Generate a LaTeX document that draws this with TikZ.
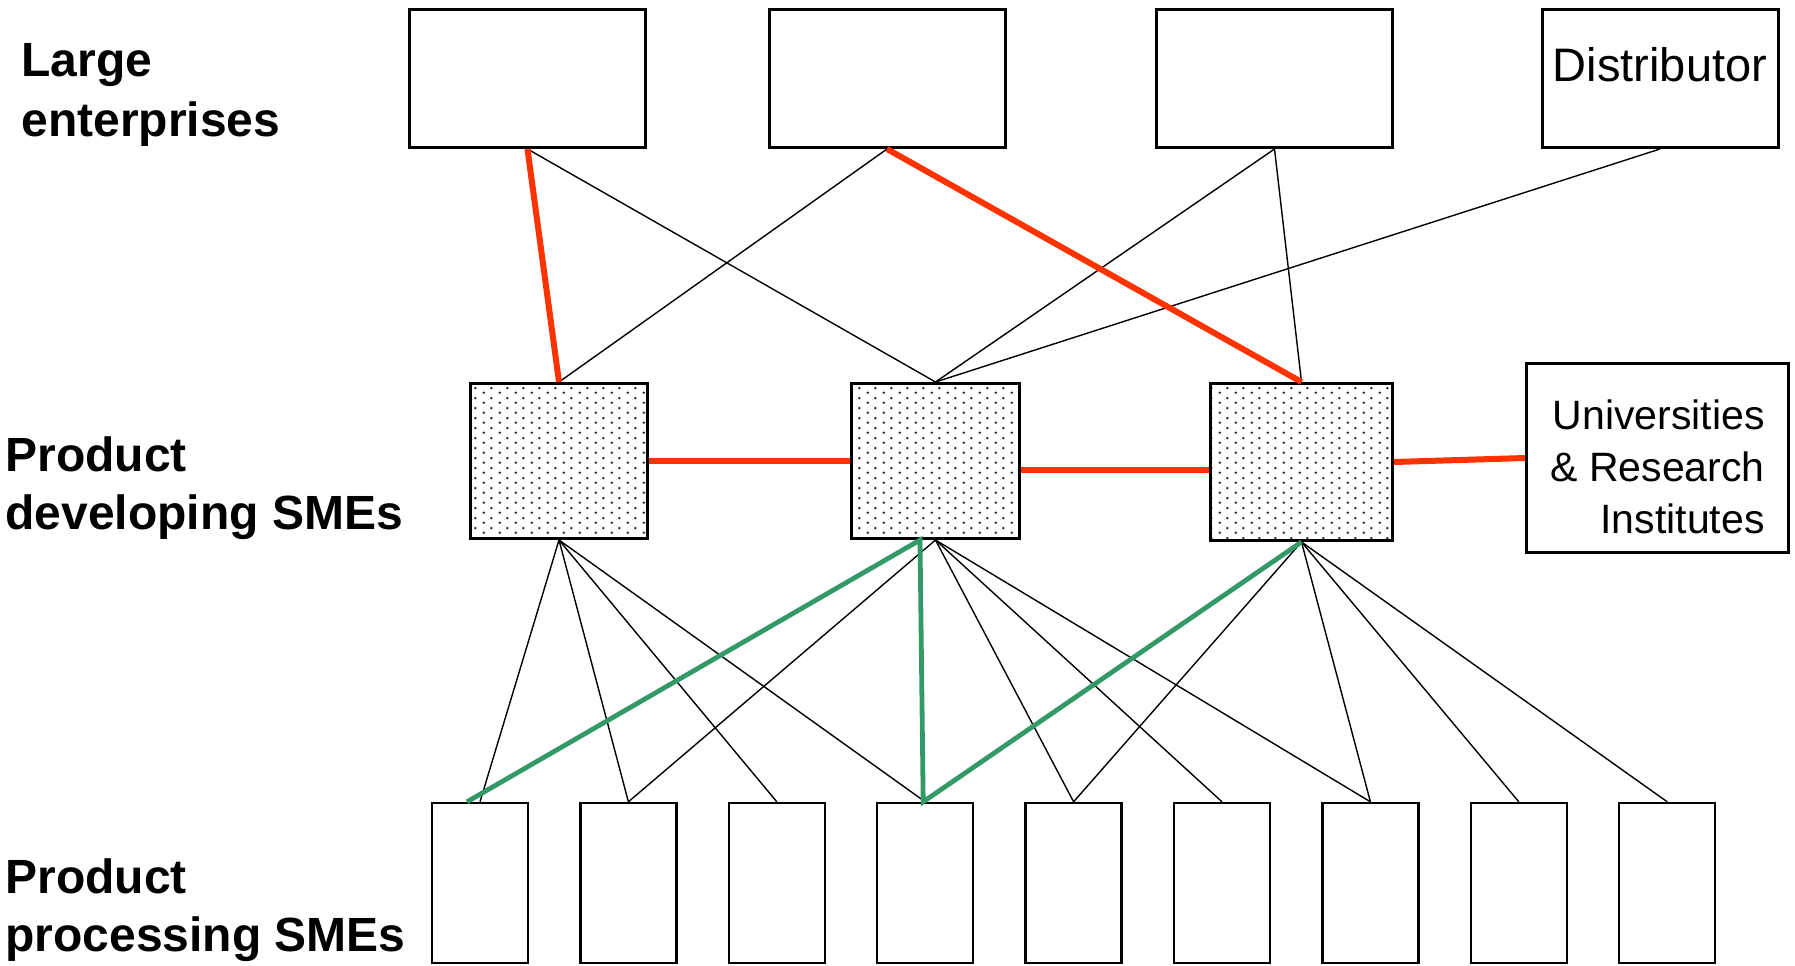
\documentclass[tikz,border=0pt]{standalone}
\usepackage{fontspec}
\setmainfont{Liberation Sans}
\usetikzlibrary{positioning,patterns}
\definecolor{linkred}{RGB}{255,51,0}
\definecolor{linkgreen}{RGB}{51,153,102}
\pgfdeclarepatternformonly{smedots}{\pgfqpoint{0pt}{0pt}}{\pgfqpoint{8pt}{5pt}}{\pgfqpoint{8pt}{5pt}}{%
  \pgfpathcircle{\pgfqpoint{2pt}{1.25pt}}{0.7pt}%
  \pgfpathcircle{\pgfqpoint{6pt}{3.75pt}}{0.7pt}%
  \pgfusepath{fill}}
\newcommand{\boxfont}{\fontsize{23.5}{28}\selectfont}
\tikzset{
  firm/.style={draw, line width=1.5pt, inner sep=0pt, minimum width=118pt, minimum height=69pt},
  dev/.style={draw, line width=1.5pt, pattern=smedots, pattern color=black!85, inner sep=0pt, minimum height=77.5pt},
  proc/.style={draw, line width=1.2pt, inner sep=0pt, minimum width=48pt, minimum height=80pt},
  tier/.style={font=\fontsize{24}{29}\selectfont\bfseries, align=left, anchor=north west, inner sep=0pt},
  tie/.style={line width=0.7pt},
  strong/.style={draw=linkred, line width=3pt},
  supply/.style={draw=linkgreen, line width=2.4pt},
}
\begin{document}
\begin{tikzpicture}[x=0.5pt,y=-0.5pt]
  \useasboundingbox (0,0) rectangle (1795,965);
  % Define nodes
  \node[tier, font=\fontsize{24}{30}\selectfont\bfseries] (lblle) at (21,43) {Large\\enterprises};
  \node[tier] (lbldev) at (5,436) {Product\\developing SMEs};
  \node[tier] (lblproc) at (5,858) {Product\\processing SMEs};

  \node[firm] (le1) at (527.5,78.5) {};
  \node[firm] (le2) at (887,78.5) {};
  \node[firm] (le3) at (1274.5,78.5) {};
  \node[firm, font=\boxfont, text height=18pt, text depth=15pt] (dist) at (1660,78.5) {Distributor};

  \node[dev, minimum width=88.5pt] (dev1) at (559,461) {};
  \node[dev, minimum width=84pt] (dev2) at (935.5,461) {};
  \node[dev, minimum width=91pt, minimum height=78.5pt] (dev3) at (1301.5,462) {};
  \node[firm, minimum width=131pt, minimum height=94.5pt, align=right,
        font=\fontsize{20.5}{26}\selectfont] (uni) at (1657.5,458)
        {\rule{0pt}{24pt}Universities\\\& Research\\Institutes};

  \node[proc] (pp1) at (480,883) {};
  \node[proc, right=25pt of pp1] (pp2) {};
  \node[proc, right=25pt of pp2] (pp3) {};
  \node[proc, right=25pt of pp3] (pp4) {};
  \node[proc, right=25pt of pp4] (pp5) {};
  \node[proc, right=25pt of pp5] (pp6) {};
  \node[proc, right=25pt of pp6] (pp7) {};
  \node[proc, right=25pt of pp7] (pp8) {};
  \node[proc, right=25pt of pp8] (pp9) {};

  % Connect the nodes
  \draw[tie] (le1.south) -- (dev2.north);
  \draw[tie] (le2.south) -- (dev1.north);
  \draw[tie] (le3.south) -- (dev2.north);
  \draw[tie] (le3.south) -- (dev3.north);
  \draw[tie] (dist.south) -- (dev2.north);

  \draw[tie] (dev1.south) -- (pp1.north);
  \draw[tie] (dev1.south) -- (pp2.north);
  \draw[tie] (dev1.south) -- (pp3.north);
  \draw[tie] (dev1.south) -- (pp4.north);
  \draw[tie] (dev2.south) -- (pp2.north);
  \draw[tie] (dev2.south) -- (pp5.north);
  \draw[tie] (dev2.south) -- (pp6.north);
  \draw[tie] (dev2.south) -- (pp7.north);
  \draw[tie] (dev3.south) -- (pp5.north);
  \draw[tie] (dev3.south) -- (pp7.north);
  \draw[tie] (dev3.south) -- (pp8.north);
  \draw[tie] (dev3.south) -- (pp9.north);

  % strong ties
  \draw[strong] (le1.south) -- (dev1.north);
  \draw[strong] (le2.south) -- (dev3.north);
  \draw[strong] (dev1.east) -- (dev2.west);
  \draw[strong] ([yshift=-4.5pt]dev2.east) -- ([yshift=-4pt]dev3.west);
  \draw[strong] (dev3.east) -- (uni.west);

  % supply chain
  \draw[supply] ([xshift=-6.5pt]pp1.north) -- ([xshift=-7.75pt]dev2.south)
    -- ([xshift=-1pt]pp4.north) -- (dev3.south);
\end{tikzpicture}
\end{document}
